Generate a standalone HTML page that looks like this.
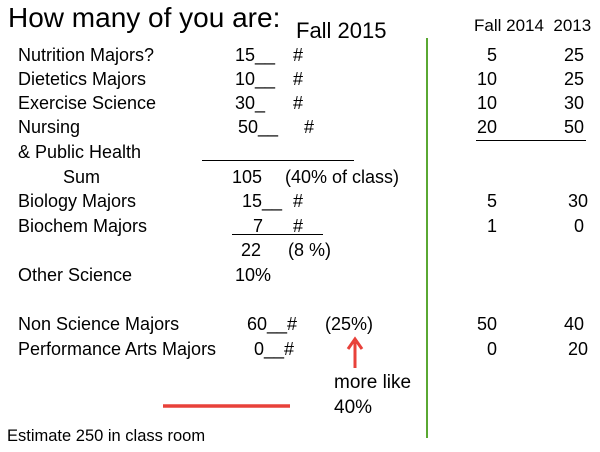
<!DOCTYPE html>
<html><head><style>
body{margin:0;width:600px;height:452px;background:#fff;position:relative;overflow:hidden;font-family:"Liberation Sans",sans-serif;color:#000}
.t{position:absolute;white-space:nowrap;font-size:18px;line-height:20px}
.r{text-align:right}
.l{position:absolute;background:#000;height:1px}
</style></head><body>
<div class="t" style="left:8px;top:1px;font-size:28px;line-height:34px">How many of you are:</div>
<div class="t" style="left:296px;top:18px;font-size:22px;line-height:26px">Fall 2015</div>
<div class="t" style="left:474px;top:16px;font-size:17px">Fall 2014&nbsp;&nbsp;2013</div>
<div style="position:absolute;left:426px;top:38px;width:2px;height:400px;background:#5aa832"></div>

<div class="t" style="left:18px;top:45px">Nutrition Majors?</div>
<div class="t" style="left:235px;top:45px">15__</div><div class="t" style="left:293px;top:45px">#</div>
<div class="t" style="left:18px;top:69px">Dietetics Majors</div>
<div class="t" style="left:235px;top:69px">10__</div><div class="t" style="left:293px;top:69px">#</div>
<div class="t" style="left:18px;top:93px">Exercise Science</div>
<div class="t" style="left:235px;top:93px">30_</div><div class="t" style="left:293px;top:93px">#</div>
<div class="t" style="left:18px;top:117px">Nursing</div>
<div class="t" style="left:238px;top:117px">50__</div><div class="t" style="left:304px;top:117px">#</div>
<div class="t" style="left:18px;top:142px">&amp; Public Health</div>
<div class="l" style="left:202px;top:160px;width:152px"></div>
<div class="t" style="left:63px;top:167px">Sum</div>
<div class="t" style="left:232px;top:167px">105</div><div class="t" style="left:285px;top:167px">(40% of class)</div>
<div class="t" style="left:18px;top:191px">Biology Majors</div>
<div class="t" style="left:242px;top:191px">15__</div><div class="t" style="left:293px;top:191px">#</div>
<div class="t" style="left:18px;top:216px">Biochem Majors</div>
<div class="t" style="left:253px;top:216px">7</div><div class="t" style="left:293px;top:216px">#</div>
<div class="l" style="left:232px;top:234px;width:91px"></div>
<div class="t" style="left:241px;top:240px">22</div><div class="t" style="left:288px;top:240px">(8 %)</div>
<div class="t" style="left:18px;top:265px">Other Science</div>
<div class="t" style="left:235px;top:265px">10%</div>
<div class="t" style="left:18px;top:314px">Non Science Majors</div>
<div class="t" style="left:247px;top:314px">60__#</div><div class="t" style="left:325px;top:314px">(25%)</div>
<div class="t" style="left:18px;top:339px">Performance Arts Majors</div>
<div class="t" style="left:254px;top:339px">0__#</div>

<div class="t r" style="left:460px;width:37px;top:45px">5</div><div class="t r" style="left:550px;width:34px;top:45px">25</div>
<div class="t r" style="left:460px;width:37px;top:69px">10</div><div class="t r" style="left:550px;width:34px;top:69px">25</div>
<div class="t r" style="left:460px;width:37px;top:93px">10</div><div class="t r" style="left:550px;width:34px;top:93px">30</div>
<div class="t r" style="left:460px;width:37px;top:117px">20</div><div class="t r" style="left:550px;width:34px;top:117px">50</div>
<div class="l" style="left:476px;top:140px;width:110px"></div>
<div class="t r" style="left:460px;width:37px;top:191px">5</div><div class="t r" style="left:550px;width:38px;top:191px">30</div>
<div class="t r" style="left:460px;width:37px;top:216px">1</div><div class="t r" style="left:550px;width:34px;top:216px">0</div>
<div class="t r" style="left:460px;width:37px;top:314px">50</div><div class="t r" style="left:550px;width:34px;top:314px">40</div>
<div class="t r" style="left:460px;width:37px;top:339px">0</div><div class="t r" style="left:550px;width:38px;top:339px">20</div>

<svg style="position:absolute;left:0;top:0" width="600" height="452">
<line x1="355" y1="368" x2="355" y2="342" stroke="#e8413a" stroke-width="3"/>
<polyline points="348,349 355,339 362,349" fill="none" stroke="#e8413a" stroke-width="3"/>
<line x1="163" y1="406" x2="290" y2="406" stroke="#e8413a" stroke-width="3.5"/>
</svg>
<div class="t" style="left:334px;top:373px;font-size:19px">more like</div>
<div class="t" style="left:334px;top:398px;font-size:19px">40%</div>
<div class="t" style="left:7px;top:427px;font-size:16.5px;line-height:18px">Estimate 250 in class room</div>
</body></html>
